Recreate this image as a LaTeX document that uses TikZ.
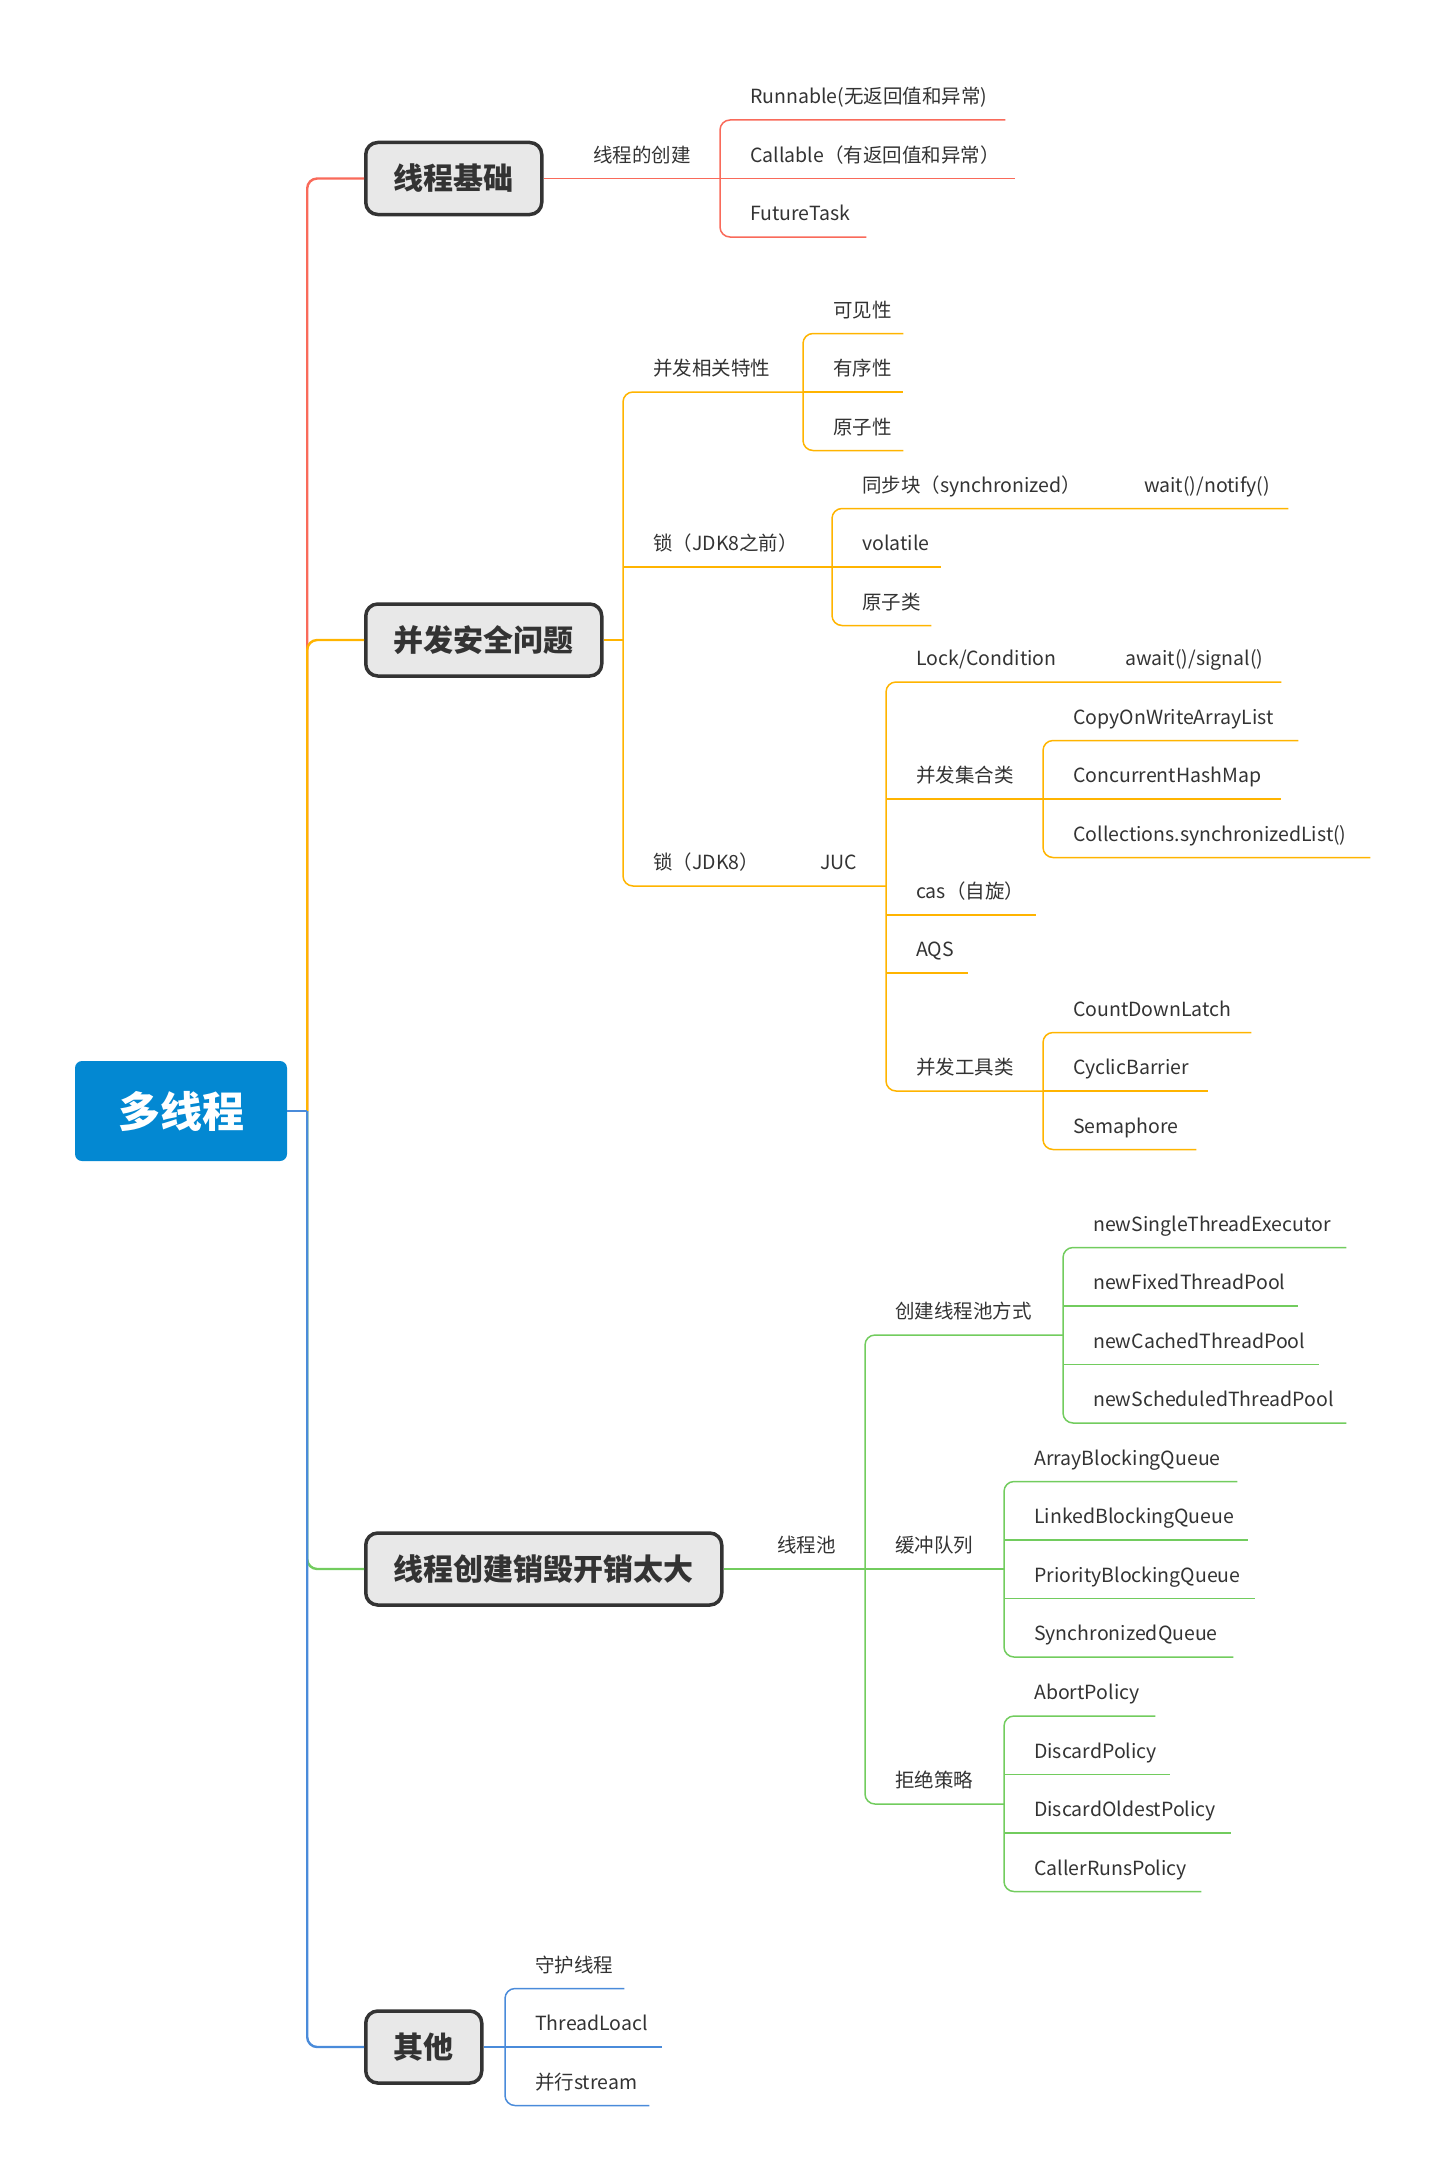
\documentclass[tikz,border=0pt]{standalone}
\usepackage{fontspec}
\setmainfont{Noto Sans CJK SC}
\usepackage{tikz}
\definecolor{rouge}{HTML}{F96A5A}
\definecolor{orangeBr}{HTML}{FFB400}
\definecolor{vert}{HTML}{72CC5E}
\definecolor{bleu}{HTML}{4A8BDA}
\definecolor{bleuRacine}{HTML}{0388D2}
\definecolor{gris}{HTML}{E8E8E8}
\definecolor{encre}{HTML}{333333}

\begin{document}
\begin{tikzpicture}[x=1pt,y=-1pt]
\tikzstyle{tronc}=[line width=2.4pt,rounded corners=10pt]
\tikzstyle{lien}=[line width=1.5pt,rounded corners=10pt]
\tikzset{racine/.style={fill=bleuRacine,rounded corners=7pt,text=white,
  minimum width=212pt,minimum height=100pt,font=\fontsize{42}{50}\selectfont\bfseries},
sujet/.style={draw=encre,line width=3.5pt,fill=gris,rounded corners=12pt,anchor=west,
  inner xsep=28pt,minimum height=72pt,text=encre,font=\fontsize{30}{36}\selectfont\bfseries},
feuille/.style={anchor=south west,inner sep=0pt,text depth=16pt,text=encre,
  font=\fontsize{19.5}{24}\selectfont,
  execute at begin node={\hbox to #1\bgroup\hskip30pt},
  execute at end node={\hfil\egroup}}}
\useasboundingbox (0,0) rectangle (1438,2178);

\node[racine] (racine) at (181,1111){多线程};
\coordinate (pivot) at ([xshift=20pt]racine.east);

\node[sujet] (base) at (364,178.5){线程基础};
\node[feuille=157pt] (creation) at (563,178.5){线程的创建};
\node[feuille=285pt] (runnable) at (720,120){Runnable(无返回值和异常)};
\node[feuille=295pt] (callable) at (720,178.5){Callable（有返回值和异常）};
\node[feuille=146pt] (future) at (720,237){FutureTask};

\node[sujet] (securite) at (364,640){并发安全问题};
\node[feuille=180pt] (concur) at (623,392){并发相关特性};
\node[feuille=100pt] (visib) at (803,333.5){可见性};
\node[feuille=100pt] (ordre) at (803,392){有序性};
\node[feuille=100pt] (atome) at (803,450.5){原子性};
\node[feuille=209pt] (verrou) at (623,567){锁（JDK8之前）};
\node[feuille=282pt] (sync) at (832,508.5){同步块（synchronized）};
\node[feuille=174pt] (wait) at (1114,508.5){wait()/notify()};
\node[feuille=109pt] (volat) at (832,567){volatile};
\node[feuille=99pt] (atomcls) at (832,625.5){原子类};
\node[feuille=167pt] (verrouHuit) at (623,886){锁（JDK8）};
\node[feuille=96pt] (juc) at (790,886){JUC};
\node[feuille=209pt] (lockc) at (886,682){Lock/Condition};
\node[feuille=186pt] (await) at (1095,682){await()/signal()};
\node[feuille=157pt] (coll) at (886,799){并发集合类};
\node[feuille=255pt] (cow) at (1043,740.5){CopyOnWriteArrayList};
\node[feuille=238pt] (chm) at (1043,799){ConcurrentHashMap};
\node[feuille=327pt] (csl) at (1043,857.5){Collections.synchronizedList()};
\node[feuille=150pt] (cas) at (886,915){cas（自旋）};
\node[feuille=82pt] (aqs) at (886,973){AQS};
\node[feuille=157pt] (outils) at (886,1091){并发工具类};
\node[feuille=208pt] (cdl) at (1043,1032.5){CountDownLatch};
\node[feuille=165pt] (cb) at (1043,1091){CyclicBarrier};
\node[feuille=153pt] (sem) at (1043,1149.5){Semaphore};

\node[sujet] (cout) at (364,1569){线程创建销毁开销太大};
\node[feuille=118pt] (pool) at (747,1569){线程池};
\node[feuille=198pt] (mode) at (865,1335){创建线程池方式};
\node[feuille=283pt] (single) at (1063,1247.5){newSingleThreadExecutor};
\node[feuille=235pt] (fixed) at (1063,1306){newFixedThreadPool};
\node[feuille=256pt] (cached) at (1063,1364.5){newCachedThreadPool};
\node[feuille=283pt] (scheduled) at (1063,1423){newScheduledThreadPool};
\node[feuille=139pt] (file) at (865,1569){缓冲队列};
\node[feuille=233pt] (array) at (1004,1481.5){ArrayBlockingQueue};
\node[feuille=244pt] (linked) at (1004,1540){LinkedBlockingQueue};
\node[feuille=251pt] (priority) at (1004,1598.5){PriorityBlockingQueue};
\node[feuille=229pt] (syncq) at (1004,1657){SynchronizedQueue};
\node[feuille=139pt] (rejet) at (865,1804){拒绝策略};
\node[feuille=151pt] (abort) at (1004,1716){AbortPolicy};
\node[feuille=166pt] (discard) at (1004,1774.5){DiscardPolicy};
\node[feuille=227pt] (oldest) at (1004,1833){DiscardOldestPolicy};
\node[feuille=197pt] (caller) at (1004,1891.5){CallerRunsPolicy};

\node[sujet] (autre) at (364,2047){其他};
\node[feuille=119pt] (daemon) at (505,1988.5){守护线程};
\node[feuille=157pt] (tlocal) at (505,2047){ThreadLoacl};
\node[feuille=144pt] (stream) at (505,2105.5){并行stream};

\draw[tronc,rouge] (pivot) |- (base.west);
\draw[tronc,orangeBr] (pivot) |- (securite.west);
\draw[tronc,vert] (pivot) |- (cout.west);
\draw[tronc,bleu] (pivot) |- (autre.west);
\draw[tronc,bleu] (racine.east) -- (pivot);

\draw[lien,rouge] (base.east) -- (creation.south east);
\draw[lien,rouge] (runnable.south east) -| (future.south west) -- (future.south east);
\draw[lien,rouge] (callable.south west) -- (callable.south east);

\draw[lien,orangeBr] (securite.east) -- (concur.south west |- securite.east);
\draw[lien,orangeBr] (concur.south east) -| (verrouHuit.south west) -- (juc.south east);
\draw[lien,orangeBr] (verrou.south west) -- (verrou.south east);
\draw[lien,orangeBr] (visib.south east) -| (atome.south west) -- (atome.south east);
\draw[lien,orangeBr] (ordre.south west) -- (ordre.south east);
\draw[lien,orangeBr] (wait.south east) -| (atomcls.south west) -- (atomcls.south east);
\draw[lien,orangeBr] (volat.south west) -- (volat.south east);
\draw[lien,orangeBr] (await.south east) -| (outils.south west) -- (outils.south east);
\draw[lien,orangeBr] (coll.south west) -- (coll.south east);
\draw[lien,orangeBr] (cas.south west) -- (cas.south east);
\draw[lien,orangeBr] (aqs.south west) -- (aqs.south east);
\draw[lien,orangeBr] (cow.south east) -| (csl.south west) -- (csl.south east);
\draw[lien,orangeBr] (chm.south west) -- (chm.south east);
\draw[lien,orangeBr] (cdl.south east) -| (sem.south west) -- (sem.south east);
\draw[lien,orangeBr] (cb.south west) -- (cb.south east);

\draw[lien,vert] (cout.east) -- (pool.south east);
\draw[lien,vert] (mode.south east) -| (rejet.south west) -- (rejet.south east);
\draw[lien,vert] (file.south west) -- (file.south east);
\draw[lien,vert] (single.south east) -| (scheduled.south west) -- (scheduled.south east);
\draw[lien,vert] (fixed.south west) -- (fixed.south east);
\draw[lien,vert] (cached.south west) -- (cached.south east);
\draw[lien,vert] (array.south east) -| (syncq.south west) -- (syncq.south east);
\draw[lien,vert] (linked.south west) -- (linked.south east);
\draw[lien,vert] (priority.south west) -- (priority.south east);
\draw[lien,vert] (abort.south east) -| (caller.south west) -- (caller.south east);
\draw[lien,vert] (discard.south west) -- (discard.south east);
\draw[lien,vert] (oldest.south west) -- (oldest.south east);

\draw[lien,bleu] (autre.east) -- (tlocal.south west);
\draw[lien,bleu] (daemon.south east) -| (stream.south west) -- (stream.south east);
\draw[lien,bleu] (tlocal.south west) -- (tlocal.south east);
\end{tikzpicture}
\end{document}
